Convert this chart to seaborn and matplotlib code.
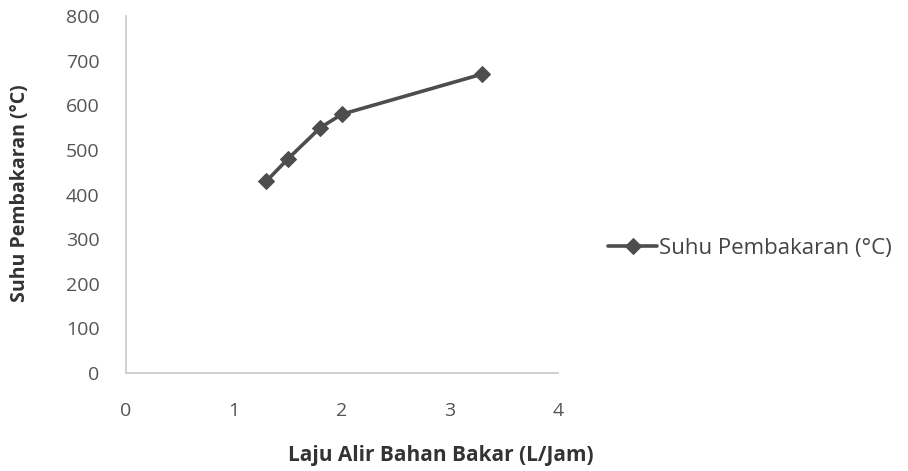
import matplotlib
matplotlib.use("Agg")
import matplotlib.pyplot as plt
import seaborn as sns
import pandas as pd

flow_rate = [1.3, 1.5, 1.8, 2.0, 3.3]
temperature = [430, 480, 550, 580, 670]
series_name = "Suhu Pembakaran (\u00b0C)"
x_ticks = [0, 1, 2, 3, 4]
y_ticks = [0, 100, 200, 300, 400, 500, 600, 700, 800]

df = pd.DataFrame({"x": flow_rate, "y": temperature, "s": series_name})

sns.set_style("white")
plt.rcParams["font.family"] = ["Open Sans", "DejaVu Sans"]

fig = plt.figure(figsize=(9.08, 4.71), dpi=100)
ax = fig.add_axes([0.1388, 0.208, 0.4757, 0.758])

sns.lineplot(data=df, x="x", y="y", hue="s", palette=["#4d4d4d"], marker="D",
             markersize=8, linewidth=2.6, markeredgecolor="#4d4d4d", ax=ax)

ax.set_xlim(0, 4)
ax.set_ylim(0, 800)
ax.set_xticks(x_ticks)
ax.set_yticks(y_ticks)
ax.tick_params(axis="x", length=0, pad=21, labelsize=14, labelcolor="#555555")
ax.tick_params(axis="y", length=0, pad=19, labelsize=14, labelcolor="#555555")
for sp in ["top", "right"]:
    ax.spines[sp].set_visible(False)
for sp in ["left", "bottom"]:
    ax.spines[sp].set_color("#c8c8c8")
    ax.spines[sp].set_linewidth(1.2)

ax.set_xlabel("Laju Alir Bahan Bakar (L/Jam)", fontsize=15, fontweight="bold",
              color="#333333", va="center", ha="center")
ax.xaxis.set_label_coords(0.729, -0.23)
ax.set_ylabel("Suhu Pembakaran (\u00b0C)", fontsize=14, fontweight="bold",
              color="#333333", va="center", ha="center")
ax.yaxis.set_label_coords(-0.245, 0.504)

leg = ax.legend(loc="center left", bbox_to_anchor=(1.07, 0.35), frameon=False,
                fontsize=16, handlelength=2.2, handletextpad=0.1, labelcolor="#444444")

fig.savefig("out.png", dpi=100)
